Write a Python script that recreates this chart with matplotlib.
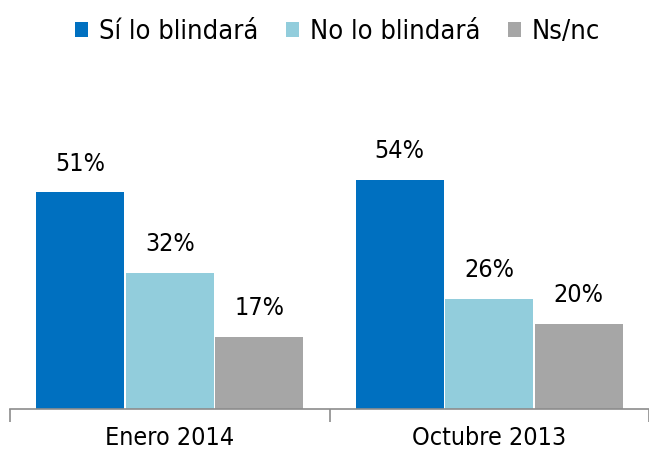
import matplotlib
matplotlib.use("Agg")
import matplotlib.pyplot as plt
from matplotlib.patches import Patch
import numpy as np

categories = ["Enero 2014", "Octubre 2013"]
series = ["Sí lo blindará", "No lo blindará", "Ns/nc"]
si = [51, 54]
no = [32, 26]
nsnc = [17, 20]
colors = ["#0070C0", "#92CDDC", "#A6A6A6"]

plt.rcParams["font.family"] = ["DejaVu Sans"]
plt.rcParams["font.stretch"] = "condensed"

fig = plt.figure(figsize=(6.49, 4.51), dpi=100)
ax = fig.add_axes([10 / 649, 1 - 409 / 451, 1 - 10 / 649, (409 - 154) / 451])

x = np.arange(len(categories))
w = 0.275
step = 0.28
for k, (vals, col) in enumerate(zip([si, no, nsnc], colors)):
    pos = x + (k - 1) * step
    ax.bar(pos, vals, width=w, color=col, edgecolor="none")
    for px, v in zip(pos, vals):
        ax.text(px, v + 3.9, f"{v}%", ha="center", va="bottom", fontsize=18)

ax.set_xlim(-0.5, 1.5)
ax.set_ylim(0, 60)
ax.set_yticks([])
for s in ("top", "right", "left"):
    ax.spines[s].set_visible(False)
ax.spines["bottom"].set_color("#8C8C8C")
ax.spines["bottom"].set_linewidth(1.2)
ax.set_xticks([-0.5, 0.5, 1.5])
ax.set_xticklabels([])
ax.tick_params(axis="x", which="major", length=9, color="#8C8C8C", width=1.2)
ax.set_xticks(x, minor=True)
ax.set_xticklabels(categories, minor=True, fontsize=18)
ax.tick_params(axis="x", which="minor", length=0, pad=12)

handles = [Patch(facecolor=c, edgecolor="none") for c in colors]
fig.legend(handles, series, loc="upper center", bbox_to_anchor=(0.52, 1.012),
           ncol=3, frameon=False, fontsize=19.5, handlelength=0.5,
           handleheight=0.5, handletextpad=0.4, columnspacing=1.0)

fig.savefig("out.png", dpi=100)
